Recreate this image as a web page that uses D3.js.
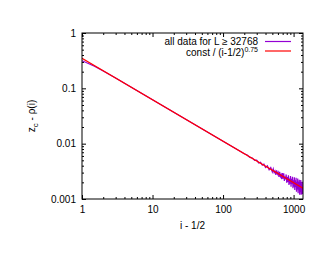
<!DOCTYPE html>
<html><head><meta charset="utf-8">
<script src="https://cdn.jsdelivr.net/npm/d3@7"></script>
<style>body{margin:0;background:#fff}svg{display:block}text{font-family:"Liberation Sans",Arial,sans-serif;fill:#000}</style>
</head><body><svg id="c" width="330" height="255"></svg>
<script>
// data: x = i - 1/2, y = z_c - rho(i)
const dataX = [1, 1.5, 2, 3, 5, 10, 20, 50, 100, 150, 200,
  220, 240, 260, 280, 300, 320, 340, 360, 380, 400, 425, 450, 475,
  500, 515, 530, 545, 560, 575, 590, 605, 620, 635, 650, 665, 680, 695,
  710, 725, 740, 755, 770, 785, 800, 815, 830, 845, 860, 875, 890, 905,
  920, 935, 950, 965, 980, 995, 1010, 1025, 1040, 1055, 1070, 1085, 1100, 1115,
  1130, 1145, 1160, 1175, 1190, 1205, 1220, 1235, 1250, 1265, 1280, 1295, 1310, 1325, 1340];
const dataY = [0.316, 0.251, 0.206, 0.1535, 0.1047, 0.0622, 0.0370, 0.01862, 0.01107, 0.00818, 0.00658,
  0.00625, 0.00565, 0.00552, 0.00498, 0.00505, 0.00448, 0.00462, 0.00410, 0.00428, 0.00372, 0.00398, 0.00338, 0.00370,
  0.00308, 0.00350, 0.00301, 0.00322, 0.00274, 0.00328, 0.00283, 0.00304, 0.00251, 0.00310, 0.00256, 0.00275, 0.00229, 0.00293,
  0.00234, 0.00291, 0.00212, 0.00255, 0.00227, 0.00278, 0.00196, 0.00250, 0.00203, 0.00268, 0.00180, 0.00233, 0.00189, 0.00259,
  0.00167, 0.00232, 0.00187, 0.00253, 0.00156, 0.00218, 0.00166, 0.00247, 0.00145, 0.00217, 0.00165, 0.00241, 0.00135, 0.00203,
  0.00148, 0.00235, 0.00127, 0.00205, 0.00149, 0.00222, 0.00119, 0.00202, 0.00134, 0.00221, 0.00120, 0.00186, 0.00122, 0.00204, 0.00123];
// fit: const / (i-1/2)^0.75
const fitConst = 0.35;
const fitExponent = 0.75;
const fitX = [1, 1360];
const xTicks = [1, 10, 100, 1000];
const xTickLabels = ["1", "10", "100", "1000"];
const yTicks = [0.001, 0.01, 0.1, 1];
const yTickLabels = ["0.001", "0.01", "0.1", "1"];
const legendLabels = ["all data for L \u2265 32768", "const / (i-1/2)"];

const L = 82, R = 303, T = 33, B = 199;
const svg = d3.select("#c");
const x = d3.scaleLog().domain([1, 1360]).range([L, R]);
const y = d3.scaleLog().domain([0.001, 1]).range([B, T]);

const minorX = [], minorY = [];
for (let d = 1; d <= 1000; d *= 10) for (let k = 2; k <= 9; k++) if (d * k <= 1360) minorX.push(d * k);
for (let d = 0.001; d < 1; d *= 10) for (let k = 2; k <= 9; k++) minorY.push(d * k);

const fs = 10;
function styleAxis(g) { g.select(".domain").remove(); g.selectAll("line").attr("stroke", "#000"); g.selectAll("text").attr("font-size", fs).attr("fill", "#000").attr("font-family", "Liberation Sans, Arial, sans-serif"); }

svg.append("g").attr("transform", `translate(0,${B})`)
  .call(d3.axisBottom(x).tickValues(xTicks).tickFormat((d, i) => xTickLabels[i]).tickSize(-4).tickPadding(7)).call(styleAxis);
svg.append("g").attr("transform", `translate(0,${B})`)
  .call(d3.axisBottom(x).tickValues(minorX).tickFormat("").tickSize(-2)).call(styleAxis);
svg.append("g").attr("transform", `translate(0,${T})`)
  .call(d3.axisTop(x).tickValues(xTicks).tickFormat("").tickSize(-4)).call(styleAxis);
svg.append("g").attr("transform", `translate(0,${T})`)
  .call(d3.axisTop(x).tickValues(minorX).tickFormat("").tickSize(-2)).call(styleAxis);
svg.append("g").attr("transform", `translate(${L},0)`)
  .call(d3.axisLeft(y).tickValues(yTicks).tickFormat((d, i) => yTickLabels[i]).tickSize(-4).tickPadding(6)).call(styleAxis);
svg.append("g").attr("transform", `translate(${L},0)`)
  .call(d3.axisLeft(y).tickValues(minorY).tickFormat("").tickSize(-2)).call(styleAxis);
svg.append("g").attr("transform", `translate(${R},0)`)
  .call(d3.axisRight(y).tickValues(yTicks).tickFormat("").tickSize(-4)).call(styleAxis);
svg.append("g").attr("transform", `translate(${R},0)`)
  .call(d3.axisRight(y).tickValues(minorY).tickFormat("").tickSize(-2)).call(styleAxis);

svg.append("clipPath").attr("id", "pc").append("rect").attr("x", L).attr("y", T).attr("width", R - L).attr("height", B - T);

const line = d3.line().x(d => x(d[0])).y(d => y(d[1]));
svg.append("path").attr("clip-path", "url(#pc)").datum(dataX.map((v, i) => [v, dataY[i]]))
  .attr("d", line).attr("fill", "none").attr("stroke", "#9400d3").attr("stroke-width", 1.2);
svg.append("path").attr("clip-path", "url(#pc)").datum(fitX.map(v => [v, fitConst / Math.pow(v, fitExponent)]))
  .attr("d", line).attr("fill", "none").attr("stroke", "#ff0000").attr("stroke-width", 1.2);

svg.append("rect").attr("x", L).attr("y", T).attr("width", R - L).attr("height", B - T)
  .attr("fill", "none").attr("stroke", "#000").attr("stroke-width", 1);

// legend
const lg = svg.append("g");
lg.append("text").attr("x", 258).attr("y", 44.5).attr("text-anchor", "end").attr("font-size", fs).attr("fill", "#000").text(legendLabels[0]);
lg.append("line").attr("x1", 265).attr("x2", 291).attr("y1", 41.5).attr("y2", 41.5).attr("stroke", "#9400d3").attr("stroke-width", 1.2);
const t2 = lg.append("text").attr("x", 258).attr("y", 55.5).attr("text-anchor", "end").attr("font-size", fs).attr("fill", "#000");
t2.append("tspan").text(legendLabels[1]);
t2.append("tspan").attr("dy", -3.5).attr("font-size", 7).text(String(fitExponent));
lg.append("line").attr("x1", 265).attr("x2", 291).attr("y1", 51).attr("y2", 51).attr("stroke", "#ff0000").attr("stroke-width", 1.2);

// axis titles
svg.append("text").attr("x", (L + R) / 2).attr("y", 229).attr("text-anchor", "middle").attr("font-size", fs).attr("fill", "#000").text("i - 1/2");
const yl = svg.append("text").attr("transform", `translate(35,${(T + B) / 2}) rotate(-90)`).attr("text-anchor", "middle").attr("font-size", fs).attr("fill", "#000");
yl.append("tspan").text("z");
yl.append("tspan").attr("dy", 3).attr("font-size", 8).text("c");
yl.append("tspan").attr("dy", -3).text("  -  \u03c1(i)");
</script></body></html>
